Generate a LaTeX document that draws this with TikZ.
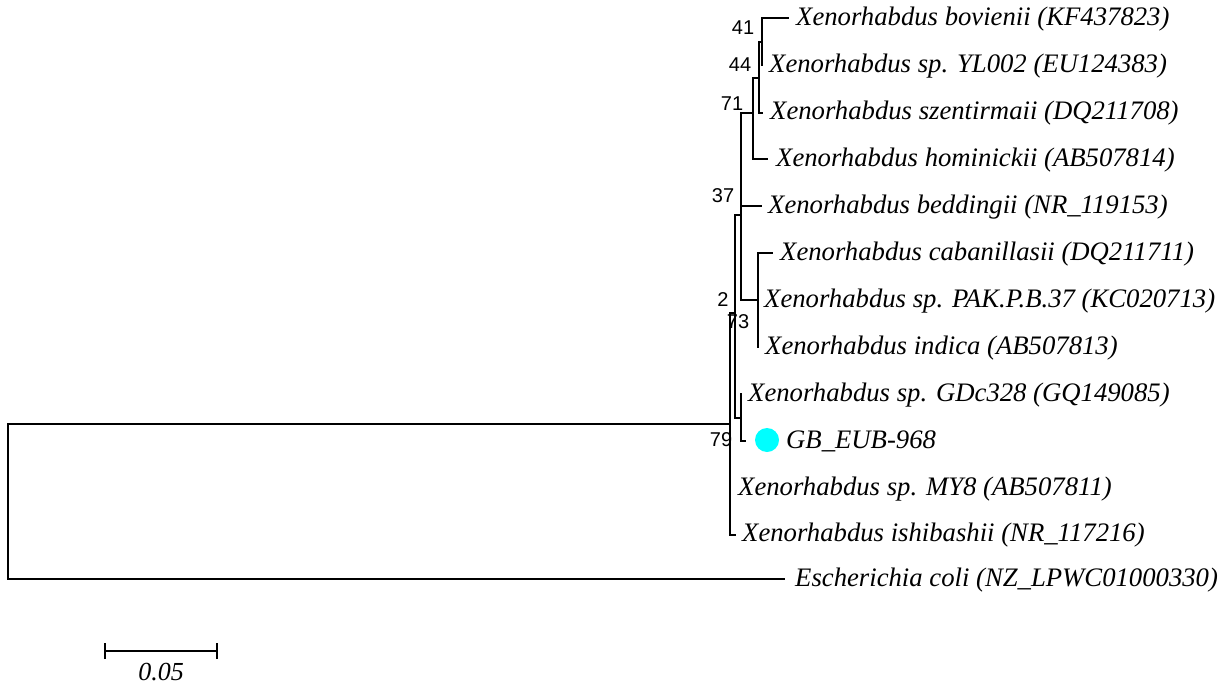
\documentclass[tikz,border=0pt]{standalone}
\usepackage{fontspec}
\setmainfont{Liberation Serif}
\newfontfamily\arialfont{Liberation Sans}
\definecolor{gbcyan}{HTML}{00FFFF}
\begin{document}
\begin{tikzpicture}[x=1pt,y=-1pt,
  branch/.style={line width=2pt, line join=miter},
  leaf/.style={anchor=west, inner sep=0pt, font=\fontsize{26.7}{28}\selectfont\itshape},
  boot/.style={inner sep=0pt, font=\arialfont\fontsize{20}{22}\selectfont}]
\useasboundingbox (0,0) rectangle (1225,685);
% internal nodes
\coordinate (r) at (8,502);
\coordinate (n79) at (730,424);
\coordinate (n73) at (735,313);
\coordinate (nA) at (741,215);
\coordinate (n71) at (753,113);
\coordinate (n44) at (759,78);
\coordinate (n41) at (762,42);
\coordinate (nCab) at (758,300);
\coordinate (nGD) at (741,418);
% tips
\coordinate (tBov) at (789,18);
\coordinate (tYL) at (762,66);
\coordinate (tSze) at (763,113);
\coordinate (tHom) at (768,159);
\coordinate (tBed) at (762,206);
\coordinate (tCab) at (773,253);
\coordinate (tPAK) at (758,300);
\coordinate (tInd) at (758,348);
\coordinate (tGD) at (741,393);
\coordinate (tGB) at (746,441);
\coordinate (tMY) at (730,488);
\coordinate (tIsh) at (736,535);
\coordinate (tEco) at (785,579);
% branches
\draw[branch] (r) |- (n79);
\draw[branch] (r) |- (tEco);
\draw[branch] (n79) |- (n73);
\draw[branch] (n79) |- (tIsh);
\draw[branch] (n73) |- (nA);
\draw[branch] (n73) |- (nGD);
\draw[branch] (nA) |- (n71);
\draw[branch] (nA) |- (tBed);
\draw[branch] (nA) |- (nCab);
\draw[branch] (n71) |- (n44);
\draw[branch] (n71) |- (tHom);
\draw[branch] (n44) |- (n41);
\draw[branch] (n44) |- (tSze);
\draw[branch] (n41) |- (tBov);
\draw[branch] (n41) -- (tYL);
\draw[branch] (nCab) |- (tCab);
\draw[branch] (nCab) -- (tInd);
\draw[branch] (nGD) -- (tGD);
\draw[branch] (nGD) |- (tGB);
% leaf labels
\node[leaf] (lBov) at (796,19) {Xenorhabdus bovienii (KF437823)};
\node[leaf] (lYL) at (769,66) {Xenorhabdus sp. YL002 (EU124383)};
\node[leaf] (lSze) at (770,113) {Xenorhabdus szentirmaii (DQ211708)};
\node[leaf] (lHom) at (776,160) {Xenorhabdus hominickii (AB507814)};
\node[leaf] (lBed) at (768,207) {Xenorhabdus beddingii (NR\_119153)};
\node[leaf] (lCab) at (780,254) {Xenorhabdus cabanillasii (DQ211711)};
\node[leaf] (lPAK) at (764,301) {Xenorhabdus sp. PAK.P.B.37 (KC020713)};
\node[leaf] (lInd) at (765,348) {Xenorhabdus indica (AB507813)};
\node[leaf] (lGD) at (748,395) {Xenorhabdus sp. GDc328 (GQ149085)};
\node[circle, fill=gbcyan, minimum size=24pt, inner sep=0pt] (dot) at (767,440) {};
\node[leaf] (lGB) at (786,441) {GB\_EUB-968};
\node[leaf] (lMY) at (738,489) {Xenorhabdus sp. MY8 (AB507811)};
\node[leaf] (lIsh) at (742,535) {Xenorhabdus ishibashii (NR\_117216)};
\node[leaf] (lEco) at (795,580) {Escherichia coli (NZ\_LPWC01000330)};
% bootstrap values
\node[boot] (b41) at (743,28) {41};
\node[boot] (b44) at (740,65) {44};
\node[boot] (b71) at (732,104) {71};
\node[boot] (b37) at (723,196) {37};
\node[boot] (b2) at (723,300) {2};
\node[boot] (b73) at (738,322) {73};
\node[boot] (b79) at (721,440) {79};
% scale bar
\coordinate (sbL) at (105,651);
\coordinate (sbR) at (217,651);
\draw[branch] (sbL) -- (sbR);
\draw[branch] ([yshift=-8pt]sbL) -- ([yshift=8pt]sbL);
\draw[branch] ([yshift=-8pt]sbR) -- ([yshift=8pt]sbR);
\node[inner sep=0pt, font=\fontsize{26}{28}\selectfont\itshape] (sbT) at (161,672) {0.05};
\end{tikzpicture}
\end{document}
